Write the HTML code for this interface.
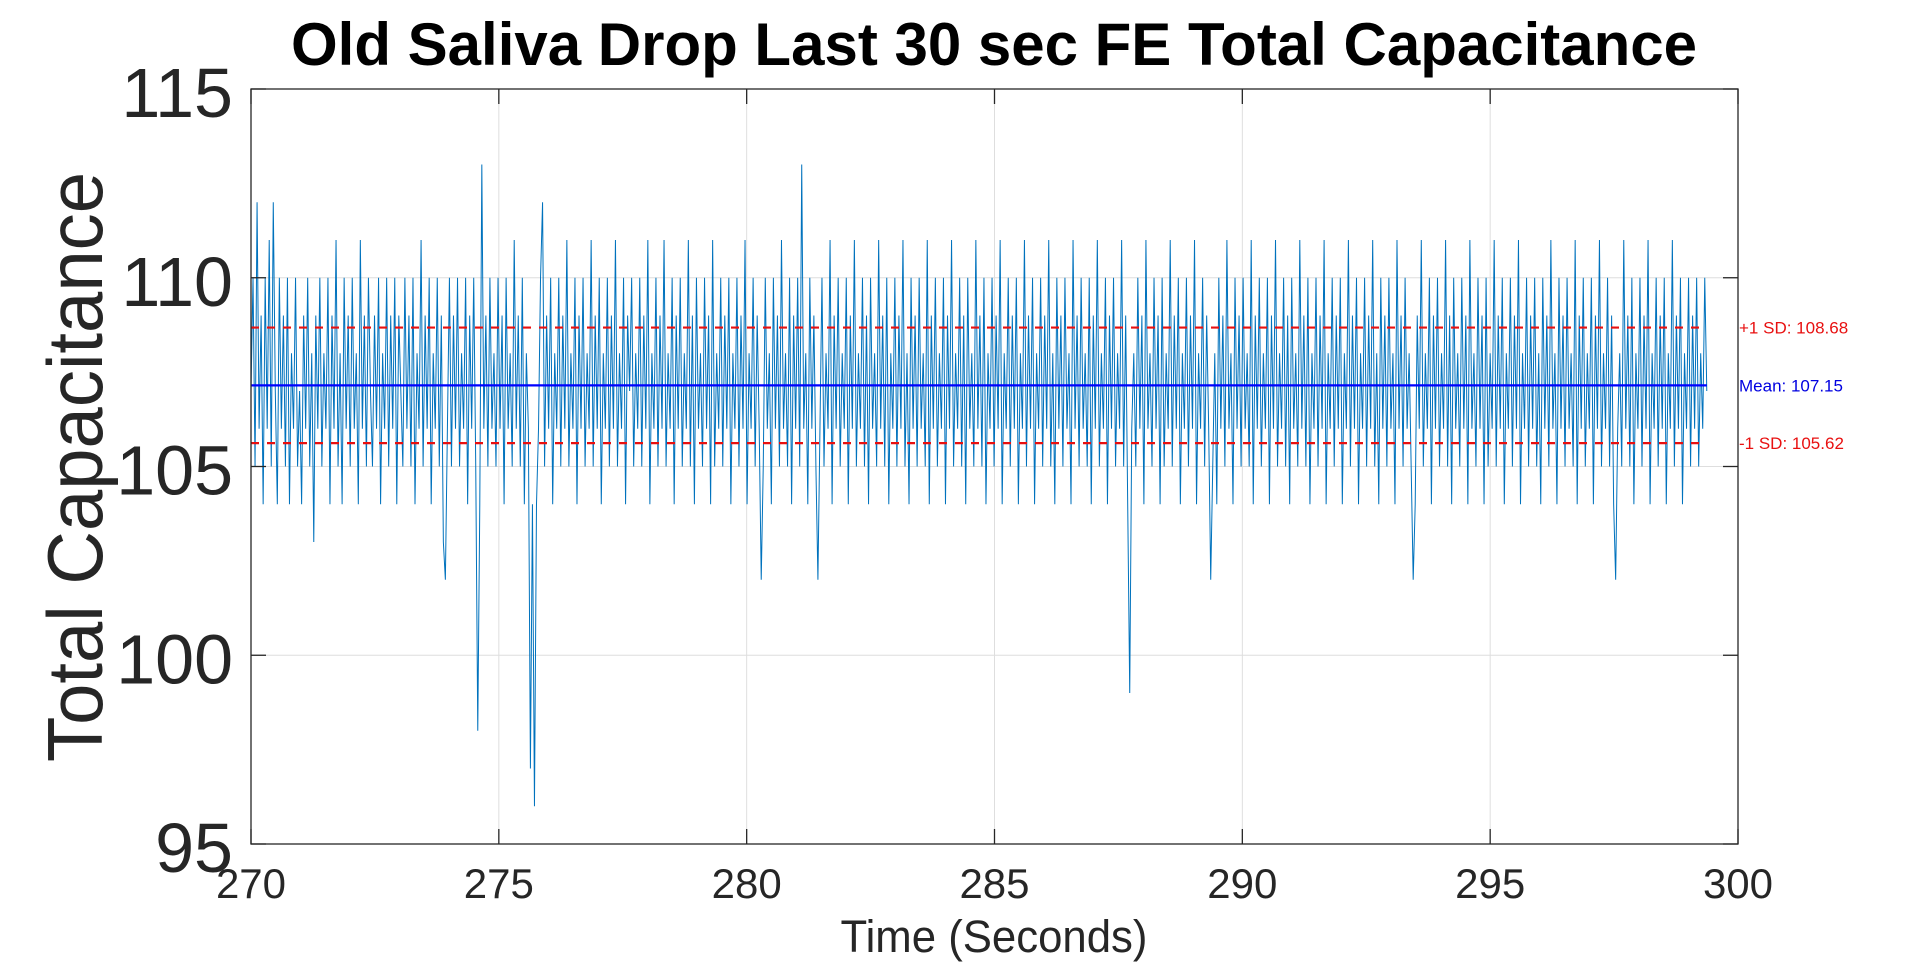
<!DOCTYPE html>
<html><head><meta charset="utf-8"><style>
html,body{margin:0;padding:0;background:#fff;width:1920px;height:963px;overflow:hidden}
svg{display:block;font-family:"Liberation Sans",Arial,sans-serif}
</style></head><body>
<svg id="chart" width="1920" height="963" viewBox="0 0 1920 963"></svg>
<script>
const xTicks=[270,275,280,285,290,295,300];
const yTicks=[95,100,105,110,115];
const tStart=270, tEnd=299.37;
const meanVal=107.15, sdPlus=108.68, sdMinus=105.62;
const values=[
107,110,105,112,106,109,104,110,106,111,105,112,107,104,110,106,109,105,110,104,
108,106,110,105,107,104,109,106,110,105,108,103,109,106,110,105,108,106,110,104,
109,106,111,105,108,104,110,106,109,105,110,106,108,104,111,106,109,105,110,107,
105,109,106,110,104,108,106,110,105,109,106,110,104,109,107,105,110,106,109,105,
110,104,108,106,111,105,109,106,110,104,108,106,110,105,109,103,102,106,110,105,
109,106,110,105,108,106,110,104,109,106,110,105,98,104,113,106,109,105,110,106,
108,105,110,106,109,104,110,106,108,105,111,106,109,105,110,104,108,106,97,104,
96,104,106,110,112,105,109,106,110,104,108,106,110,105,109,106,111,105,108,106,
110,104,109,106,110,105,108,106,111,105,109,106,110,104,108,106,110,105,109,106,
111,105,108,106,110,104,109,107,110,105,108,106,110,105,109,106,111,104,108,106,
110,105,109,106,111,105,108,106,110,104,109,106,110,105,108,106,111,105,109,104,
110,106,108,105,110,106,109,104,111,105,108,106,110,105,109,106,110,104,108,106,
110,105,109,106,111,104,108,106,110,105,109,106,102,105,110,106,108,104,110,106,
109,105,111,106,108,105,110,104,109,106,110,105,113,106,108,104,110,106,109,105,
102,106,110,105,108,106,111,104,109,106,110,105,108,106,110,104,109,106,111,105,
108,106,110,105,109,104,110,106,108,105,111,106,109,105,110,104,108,106,110,105,
109,106,111,105,108,104,110,106,109,105,110,106,108,105,111,104,109,106,110,105,
108,106,110,104,109,106,111,105,108,106,110,105,109,104,110,106,108,105,111,106,
109,105,110,104,108,106,110,105,109,106,111,104,108,106,110,105,109,106,110,104,
108,106,111,105,109,106,110,104,108,106,110,105,109,106,111,105,108,104,110,106,
109,105,110,106,108,104,111,106,109,105,110,106,108,105,110,104,109,106,111,105,
108,106,110,104,109,106,110,105,108,106,111,105,109,104,99,106,108,105,110,106,
109,104,111,106,108,105,110,106,109,104,110,105,108,106,111,105,109,106,110,104,
108,106,110,105,109,106,111,104,108,106,110,105,109,106,102,105,108,104,110,106,
109,105,111,106,108,104,110,106,109,105,110,106,108,105,111,104,109,106,110,105,
108,106,110,104,109,106,111,105,108,106,110,105,109,104,110,106,108,105,111,106,
109,105,110,104,108,106,110,105,109,106,111,104,108,106,110,105,109,106,110,104,
108,106,111,105,109,106,110,104,108,106,110,105,109,106,111,105,108,104,110,106,
109,105,110,106,108,104,111,106,109,105,110,106,108,105,102,104,109,106,111,105,
108,106,110,104,109,106,110,105,108,106,111,105,109,104,110,106,108,105,110,106,
109,104,111,106,108,105,110,106,109,104,110,105,108,106,111,105,109,106,110,104,
108,106,110,105,109,106,111,104,108,106,110,105,109,106,110,105,108,104,110,106,
109,105,111,106,108,104,110,106,109,105,110,106,108,105,111,104,109,106,110,105,
108,106,110,104,109,106,111,105,108,106,110,105,109,104,102,106,108,105,111,106,
109,105,110,104,108,106,110,105,109,106,111,104,108,106,110,105,109,106,110,104,
108,106,111,105,109,106,110,104,108,106,110,105,109,106,110,105,108,106,110,107
];
const NS="http://www.w3.org/2000/svg";
const svg=document.getElementById('chart');
const L=251,R=1738,T=89,B=844;
const xS=v=>L+(v-270)/(300-270)*(R-L);
const yS=v=>B-(v-95)/(115-95)*(B-T);
function mk(tag,attrs,parent){const e=document.createElementNS(NS,tag);for(const k in attrs)e.setAttribute(k,attrs[k]);(parent||svg).appendChild(e);return e;}

xTicks.slice(1,-1).forEach(t=>{const g=mk('line',{x1:xS(t),x2:xS(t),y1:T,y2:B,stroke:'#dedede','stroke-width':1});

});
yTicks.slice(1,-1).forEach(t=>{const g=mk('line',{x1:L,x2:R,y1:yS(t),y2:yS(t),stroke:'#dedede','stroke-width':1});

});

const dt=(tEnd-tStart)/(values.length-1);
const pts=values.map((v,i)=>xS(tStart+i*dt).toFixed(2)+','+yS(v).toFixed(2)).join(' ');
const series=mk('polyline',{points:pts,fill:'none',stroke:'#0072BD','stroke-width':1});



const xe=xS(tEnd);
const m=mk('line',{x1:L,x2:xe,y1:yS(meanVal),y2:yS(meanVal),stroke:'#0000ff','stroke-width':2.2});


[[sdPlus,'plus-sd-line'],[sdMinus,'minus-sd-line']].forEach(([v,n])=>{
const l=mk('line',{x1:L,x2:xe,y1:yS(v),y2:yS(v),stroke:'#e81010','stroke-width':2.2,'stroke-dasharray':'8,8'});

});

const fr=mk('rect',{x:L,y:T,width:R-L,height:B-T,fill:'none',stroke:'#262626','stroke-width':1.3});



xTicks.forEach(t=>{
mk('line',{x1:xS(t),x2:xS(t),y1:B,y2:B-15,stroke:'#262626','stroke-width':1.3});
mk('line',{x1:xS(t),x2:xS(t),y1:T,y2:T+15,stroke:'#262626','stroke-width':1.3});
const tx=mk('text',{x:xS(t),y:898,'text-anchor':'middle','font-size':42,fill:'#262626'});
tx.textContent=t;

});
yTicks.forEach(t=>{
mk('line',{x1:L,x2:L+15,y1:yS(t),y2:yS(t),stroke:'#262626','stroke-width':1.3});
mk('line',{x1:R,x2:R-15,y1:yS(t),y2:yS(t),stroke:'#262626','stroke-width':1.3});
const tx=mk('text',{x:233,y:yS(t)+28,'text-anchor':'end','font-size':70,fill:'#262626'});
tx.textContent=t;

});

[[sdPlus,'+1 SD: '+sdPlus.toFixed(2),'#e81010','plus-sd-label'],[meanVal,'Mean: '+meanVal.toFixed(2),'#0000e0','mean-label'],[sdMinus,'-1 SD: '+sdMinus.toFixed(2),'#e81010','minus-sd-label']].forEach(([v,s,c,n])=>{
const tx=mk('text',{x:1739,y:yS(v)+6,'font-size':17,fill:c});
tx.textContent=s;

});

const ti=mk('text',{x:994,y:65,'text-anchor':'middle','font-size':60,'font-weight':'bold',fill:'#000',textLength:1406,lengthAdjust:'spacingAndGlyphs'});
ti.textContent='Old Saliva Drop Last 30 sec FE Total Capacitance';


const xl=mk('text',{x:994,y:952,'text-anchor':'middle','font-size':45,fill:'#262626',textLength:307,lengthAdjust:'spacingAndGlyphs'});
xl.textContent='Time (Seconds)';


const yl=mk('text',{x:0,y:0,'text-anchor':'middle','font-size':78,fill:'#262626',transform:'translate(102,467) rotate(-90)',textLength:590,lengthAdjust:'spacingAndGlyphs'});
yl.textContent='Total Capacitance';


</script>
</body></html>
